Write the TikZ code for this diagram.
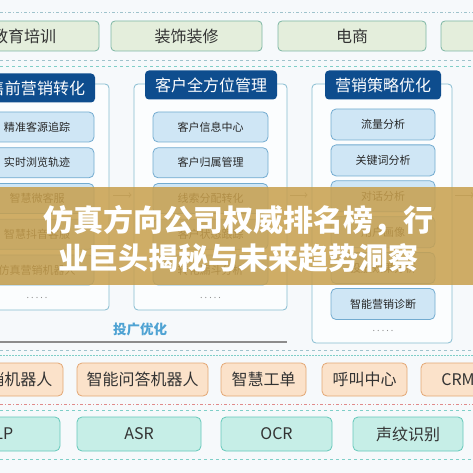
\documentclass[tikz,border=0pt]{standalone}
\usepackage{fontspec}
\setmainfont{Noto Sans CJK SC}
\usetikzlibrary{positioning}

\definecolor{bgcol}{HTML}{F6F9FB}
\definecolor{topfill}{HTML}{E4EEDC}
\definecolor{topedge}{HTML}{7DB6A4}
\definecolor{paneledge}{HTML}{86BCD0}
\definecolor{panelfill}{HTML}{FBFDFE}
\definecolor{titlefill}{HTML}{0E4D8E}
\definecolor{itemfill}{HTML}{CFE6F5}
\definecolor{itemedge}{HTML}{72ABD0}
\definecolor{appfill}{HTML}{FBE2CA}
\definecolor{appedge}{HTML}{E3A774}
\definecolor{aifill}{HTML}{C6EEE7}
\definecolor{aiedge}{HTML}{66C8BA}
\definecolor{sepgray}{HTML}{9FC3CC}
\definecolor{septeal}{HTML}{7FCFC8}
\definecolor{sepred}{HTML}{E08A8A}
\definecolor{bannercol}{HTML}{C8A04E}
\definecolor{optcol}{HTML}{4FA3D3}

\tikzset{
  topbox/.style={draw=topedge, fill=topfill, rounded corners=4pt, line width=0.8pt,
    minimum height=30pt, inner sep=0pt, font=\fontsize{16}{18}\selectfont, text=black!80},
  panelframe/.style={draw=paneledge, fill=panelfill, rounded corners=4pt, line width=0.8pt, inner sep=0pt},
  paneltitle/.style={fill=titlefill, rounded corners=4pt, text=white, inner xsep=10pt,
    minimum height=29pt, font=\fontsize{16}{18}\selectfont},
  itembox/.style={draw=itemedge, fill=itemfill, rounded corners=5pt, line width=0.8pt,
    minimum height=30pt, inner sep=0pt, font=\fontsize{11}{13}\selectfont, text=black!85},
  appbox/.style={draw=appedge, fill=appfill, rounded corners=5pt, line width=0.8pt,
    minimum height=33pt, inner sep=0pt, font=\fontsize{16}{18}\selectfont, text=black!80},
  aibox/.style={draw=aiedge, fill=aifill, rounded corners=5pt, line width=0.8pt,
    minimum height=34pt, inner sep=0pt, font=\fontsize{16}{18}\selectfont, text=black!80},
  moredots/.style={text=black!45, font=\fontsize{9}{10}\selectfont, inner sep=0pt},
  flowarrow/.style={->, line width=1pt, black!40},
  sepline/.style={dashed, line width=0.6pt}
}

\begin{document}
\begin{tikzpicture}[x=1pt, y=-1pt]
  \useasboundingbox (0,0) rectangle (473,473);
  \clip (0,0) rectangle (473,473);
  \fill[bgcol] (0,0) rectangle (473,473);

  % Separator lines
  \draw[sepline, sepgray, dash pattern=on 3pt off 2pt on 1pt off 2pt] (0,12) -- (473,12);
  \draw[sepline, sepgray] (0,60) -- (473,60);
  \draw[sepline, septeal] (0,66) -- (473,66);
  \draw[sepline, sepgray] (0,350) -- (473,350);
  \draw[sepline, septeal, dash pattern=on 1.5pt off 1.5pt] (0,355) -- (473,355);
  \draw[sepline, sepred, dash pattern=on 3pt off 2pt on 1pt off 2pt] (0,404) -- (473,404);
  \draw[sepline, septeal] (0,410) -- (473,410);
  \draw[sepline, septeal] (0,459) -- (473,459);

  % Industry row
  \node[topbox, minimum width=150pt] (ind1) at (24,36) {教育培训};
  \node[topbox, minimum width=151pt] (ind2) at (186.5,36) {装饰装修};
  \node[topbox, minimum width=148pt] (ind3) at (352,36) {电商};
  \node[topbox, minimum width=150pt] (ind4) at (516,36) {};

  % Panel frames
  \node[panelframe, minimum width=148pt, minimum height=226pt] (pnl1) at (35,197) {};
  \node[panelframe, minimum width=153pt, minimum height=226pt] (pnl2) at (210.5,197) {};
  \node[panelframe, minimum width=140pt, minimum height=259pt] (pnl3) at (382,213.5) {};

  % Panel titles
  \node[paneltitle] (ttl1) at (37,88) {售前营销转化};
  \node[paneltitle] (ttl2) at (211,85) {客户全方位管理};
  \node[paneltitle] (ttl3) at (383,85) {营销策略优化};

  % Items of the three panels
  \foreach \t [count=\i] in {精准客源追踪,实时浏览轨迹,智慧微客服,智慧抖音客服,仿真营销机器人}{
    \node[itembox, minimum width=114pt] (pa\i) at (37,91.25+35.75*\i) {\t};
  }
  \foreach \t [count=\i] in {客户信息中心,客户归属管理,线索分配转化,客户状态跟踪,转化漏斗分析}{
    \node[itembox, minimum width=115pt] (pb\i) at (210.5,91.25+35.75*\i) {\t};
  }
  \foreach \t [count=\i] in {流量分析,关键词分析,对话分析,用户画像,投放效果分析,智能营销诊断}{
    \node[itembox, minimum width=104pt, minimum height=31pt] (pc\i) at (383,88.6+35.9*\i) {\t};
  }
  \node[moredots] (pad) at (37,298) {.\ .\ .\ .\ .};
  \node[moredots] (pbd) at (210.5,298) {.\ .\ .\ .\ .};
  \node[moredots] (pcd) at (383,331) {.\ .\ .\ .\ .};

  % Flow arrows between panels
  \coordinate (arrowrow) at (0,195);
  \coordinate (rightend) at (474,195);
  \draw[flowarrow] ([xshift=4pt]pnl1.east |- arrowrow) -- ([xshift=-2pt]pnl2.west |- arrowrow);
  \draw[flowarrow] ([xshift=3pt]pnl2.east |- arrowrow) -- ([xshift=-4pt]pnl3.west |- arrowrow);
  \draw[flowarrow] ([xshift=3pt]pnl3.east |- arrowrow) -- (rightend);

  % Ad optimisation label
  \node[text=optcol, font=\fontsize{13.5}{15}\selectfont\bfseries] (opt) at (140,329) {投广优化};
  \draw[line width=1.4pt, black!45] (-5,342) -- (287,342);

  % Application row
  \node[appbox, minimum width=101pt] (app1) at (12.5,379.5) {营销机器人};
  \node[appbox, minimum width=131pt] (app2) at (142.5,379.5) {智能问答机器人};
  \node[appbox, minimum width=85pt] (app3) at (263.5,379.5) {智慧工单};
  \node[appbox, minimum width=85pt] (app4) at (364.5,379.5) {呼叫中心};
  \node[appbox, minimum width=74pt] (app5) at (458,379.5) {CRM};

  % AI capability row
  \node[aibox, minimum width=124pt] (ai1) at (-2,434) {NLP};
  \node[aibox, minimum width=124pt] (ai2) at (139,434) {ASR};
  \node[aibox, minimum width=111pt] (ai3) at (276.5,434) {OCR};
  \node[aibox, minimum width=110pt] (ai4) at (408,434) {声纹识别};

  % Title banner
  \fill[bannercol, opacity=0.86] (0,187) rectangle (473,285);
  \node[text=white, font=\fontsize{30}{38}\selectfont\bfseries, align=center] (banner) at (238,239)
    {仿真方向公司权威排名榜，行\\业巨头揭秘与未来趋势洞察};
\end{tikzpicture}
\end{document}
